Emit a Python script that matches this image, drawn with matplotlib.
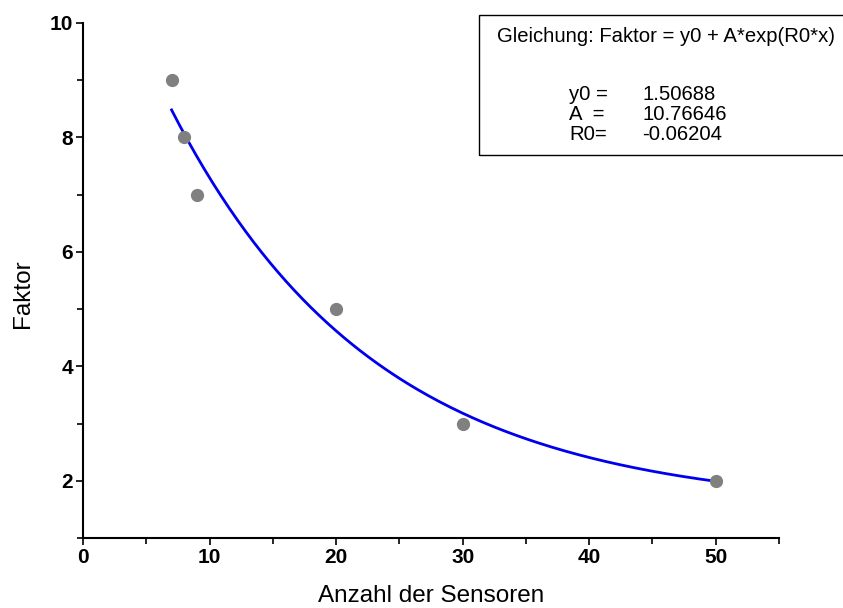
import numpy as np
import matplotlib.pyplot as plt
from matplotlib.ticker import MultipleLocator

plt.rcParams['font.family'] = ['Liberation Sans', 'DejaVu Sans']

# measured points
sensoren = [7, 8, 9, 20, 30, 50]
faktor = [9, 8, 7, 5, 3, 2]

# fit parameters shown in the box
y0 = 1.50688
A = 10.76646
R0 = -0.06204

x_fit = np.linspace(min(sensoren), max(sensoren), 200)
y_fit = y0 + A * np.exp(R0 * x_fit)

fig = plt.figure(figsize=(8.43, 6.08), dpi=100)
ax = fig.add_axes([83 / 843, 70 / 608, 696 / 843, 515 / 608])

ax.plot(x_fit, y_fit, c="#0000ee", lw=2.0, zorder=2)
ax.plot(sensoren, faktor, "o", c="#808080", ms=8.5, zorder=3)

ax.set_xlim(0, 55)
ax.set_ylim(1, 10)
ax.xaxis.set_major_locator(MultipleLocator(10))
ax.xaxis.set_minor_locator(MultipleLocator(5))
ax.yaxis.set_major_locator(MultipleLocator(2))
ax.yaxis.set_minor_locator(MultipleLocator(1))

for s in ["top", "right"]:
    ax.spines[s].set_visible(False)
for s in ["left", "bottom"]:
    ax.spines[s].set_linewidth(1.5)

ax.tick_params(which="major", length=5, width=1.2, direction="out", pad=2)
ax.tick_params(which="minor", length=4, width=1.2, direction="out")
for lab in ax.get_xticklabels() + ax.get_yticklabels():
    lab.set_fontweight("bold")
    lab.set_fontsize(15)

ax.set_xlabel("Anzahl der Sensoren", fontsize=17.5, labelpad=13)
ax.set_ylabel("Faktor", fontsize=17.5)
ax.yaxis.set_label_coords(-0.071, 0.474)

# equation box
box = plt.Rectangle((479 / 843, 1 - 155 / 608), 370 / 843, 140 / 608,
                    transform=fig.transFigure, fill=False, lw=1.0, ec="k")
fig.add_artist(box)
fs = 14.6
fig.text(497 / 843, 1 - 37 / 608, "Gleichung: Faktor = y0 + A*exp(R0*x)",
         fontsize=fs, va="center")
rows = [("y0 =", "%.5f" % y0), ("A  =", "%.5f" % A), ("R0=", "%.5f" % R0)]
for i, (k, v) in enumerate(rows):
    yy = 1 - (94 + 20 * i) / 608
    fig.text(569 / 843, yy, k, fontsize=fs, va="center")
    fig.text(642 / 843, yy, v, fontsize=fs, va="center")

fig.savefig("out.png", dpi=100)
